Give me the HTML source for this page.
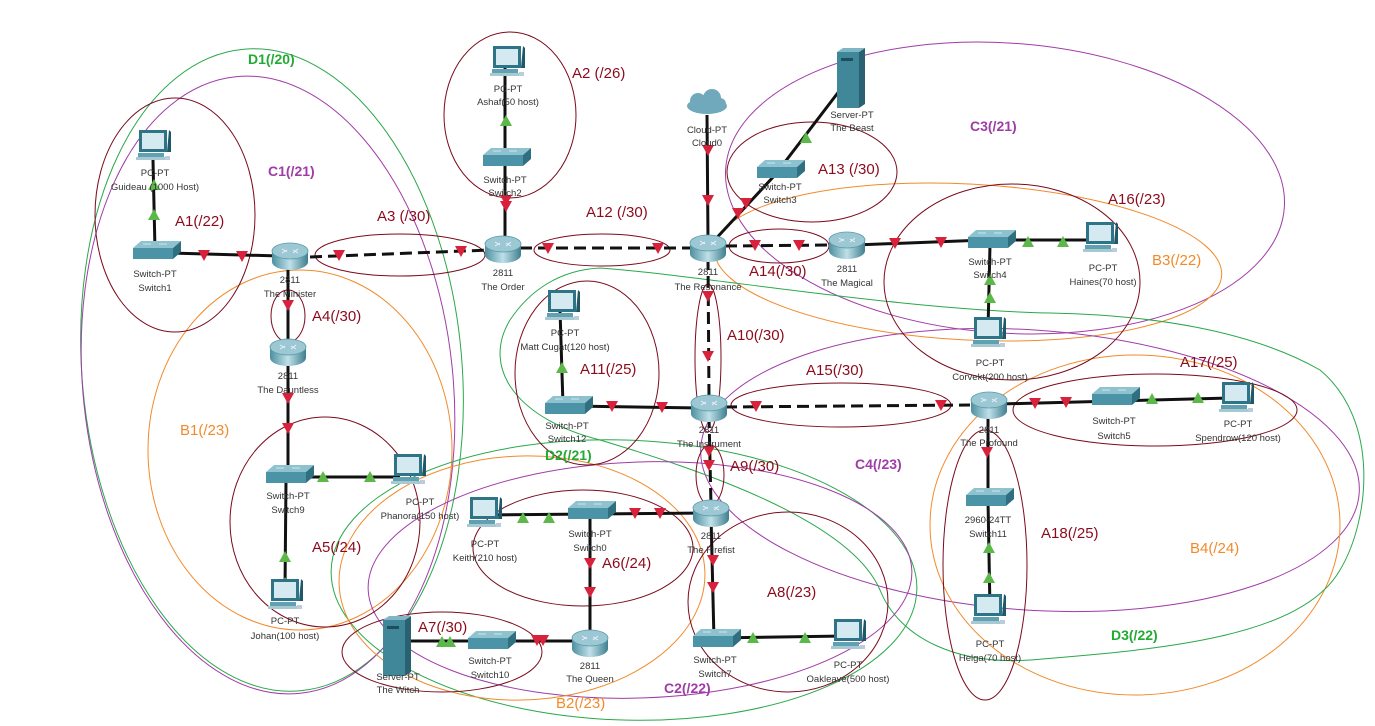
<!DOCTYPE html>
<html><head><meta charset="utf-8"><style>
html,body{margin:0;padding:0;background:#fff;}
svg{display:block;}
text{font-family:"Liberation Sans",Arial,sans-serif;}
.l{font-size:9.5px;fill:#333;text-anchor:middle;}
.a{font-size:15px;fill:#8b0b1c;}
.p{font-size:14px;fill:#a03ca8;font-weight:bold;}
.o{font-size:15px;fill:#f28a2a;}
.g{font-size:14px;fill:#22aa33;font-weight:bold;}
</style></head><body>
<svg width="1375" height="726" viewBox="0 0 1375 726" xmlns="http://www.w3.org/2000/svg">
<defs>
<linearGradient id="rg" x1="0" y1="0" x2="1" y2="0"><stop offset="0" stop-color="#4d8f9f"/><stop offset="0.5" stop-color="#bfe0e8"/><stop offset="1" stop-color="#3f7f8f"/></linearGradient>
<g id="rt"><path d="M-18,-5 L-18,6 A18,8 0 0 0 18,6 L18,-5 Z" fill="url(#rg)"/><ellipse cx="0" cy="-5" rx="18" ry="8" fill="#9cc8d4" stroke="#5a9aa9" stroke-width="0.8"/><path d="M-8,-7 L-3,-4 M3,-6 L8,-3 M-8,-3 L-3,-6 M3,-3 L8,-7" stroke="#eef" stroke-width="1"/></g>
<g id="sw"><polygon points="-22,-5 -14,-12 26,-12 18,-5" fill="#8fc2cf"/><rect x="-22" y="-5" width="40" height="11" fill="#4b93a6"/><polygon points="18,-5 26,-12 26,-1 18,6" fill="#2f6f80"/><path d="M-12,-9 L-4,-9 M4,-9 L12,-9" stroke="#e8f4f8" stroke-width="0.8"/></g>
<g id="pc"><rect x="-14" y="-18" width="28" height="22" fill="#2f7486"/><rect x="-11" y="-15" width="22" height="16" fill="#d5e9f0"/><polygon points="16,-18 18,-16 18,4 14,4" fill="#1f5868"/><rect x="-15" y="5" width="26" height="5" fill="#5fa0b2"/><rect x="-17" y="9" width="30" height="3" fill="#a8c8d2"/><rect x="12" y="8" width="5" height="4" fill="#bcd"/></g>
<g id="sv"><rect x="-13" y="-28" width="22" height="56" fill="#3f8799"/><polygon points="9,-28 15,-32 15,24 9,28" fill="#2a6172"/><polygon points="-13,-28 -7,-32 15,-32 9,-28" fill="#7fb5c4"/><rect x="-9" y="-22" width="12" height="3" fill="#1d4e5c"/></g>
<path id="rd" d="M-6,-5 L6,-5 L0,6 Z" fill="#d8213a"/>
<path id="gu" d="M-6,5 L6,5 L0,-6 Z" fill="#5cb848"/>
</defs>

<!-- big ellipses -->
<g fill="none" stroke-width="1">
<ellipse cx="272" cy="370" rx="190" ry="322" transform="rotate(-5 272 370)" stroke="#2aa84a"/>
<ellipse cx="268" cy="385" rx="185" ry="310" transform="rotate(-6 268 385)" stroke="#a03ca8"/>
<ellipse cx="300" cy="450" rx="152" ry="180" stroke="#f28a2a"/>
<ellipse cx="1005" cy="188" rx="280" ry="145" transform="rotate(4 1005 188)" stroke="#a03ca8"/>
<ellipse cx="968" cy="262" rx="254" ry="78" transform="rotate(3 968 262)" stroke="#f28a2a"/>
<ellipse cx="1030" cy="470" rx="330" ry="140" transform="rotate(4 1030 470)" stroke="#a03ca8"/>
<ellipse cx="1135" cy="525" rx="205" ry="170" stroke="#f28a2a"/>
<path d="M600,268 C700,275 900,310 1050,313 C1150,315 1250,330 1320,370 C1380,420 1370,520 1340,570 C1300,640 1150,650 1030,660 C960,665 900,640 880,590 C850,520 700,470 600,440 C520,420 480,370 510,320 C530,290 560,270 600,268 Z" stroke="#2aa84a"/>
<ellipse cx="624" cy="580" rx="293" ry="140" transform="rotate(2 624 580)" stroke="#2aa84a"/>
<ellipse cx="640" cy="580" rx="272" ry="118" transform="rotate(-2 640 580)" stroke="#a03ca8"/>
<ellipse cx="522" cy="578" rx="183" ry="122" transform="rotate(-2 522 578)" stroke="#f28a2a"/>
</g>
<g fill="none" stroke="#7a0a1c" stroke-width="1">
<ellipse cx="175" cy="215" rx="80" ry="117"/>
<ellipse cx="510" cy="115" rx="66" ry="83"/>
<ellipse cx="400" cy="255" rx="85" ry="21"/>
<ellipse cx="288" cy="316" rx="17" ry="26"/>
<ellipse cx="325" cy="522" rx="95" ry="105"/>
<ellipse cx="602" cy="250" rx="68" ry="16"/>
<ellipse cx="812" cy="172" rx="85" ry="50"/>
<ellipse cx="779" cy="246" rx="50" ry="17"/>
<ellipse cx="1012" cy="282" rx="128" ry="98"/>
<ellipse cx="708" cy="358" rx="13" ry="74"/>
<ellipse cx="587" cy="373" rx="72" ry="92"/>
<ellipse cx="841" cy="405" rx="110" ry="22"/>
<ellipse cx="1155" cy="410" rx="142" ry="36"/>
<ellipse cx="985" cy="565" rx="42" ry="135"/>
<ellipse cx="710" cy="475" rx="14" ry="30"/>
<ellipse cx="583" cy="548" rx="110" ry="58"/>
<ellipse cx="442" cy="652" rx="100" ry="40"/>
<ellipse cx="788" cy="602" rx="100" ry="90"/>
</g>

<!-- links -->
<g stroke="#111" stroke-width="3" fill="none">
<line x1="153" y1="160" x2="155" y2="250"/>
<line x1="170" y1="253" x2="280" y2="256"/>
<line x1="288" y1="262" x2="288" y2="350"/>
<line x1="288" y1="355" x2="288" y2="475"/>
<line x1="300" y1="477" x2="400" y2="477"/>
<line x1="286" y1="480" x2="285" y2="590"/>
<line x1="505" y1="68" x2="505" y2="245"/>
<line x1="707" y1="115" x2="708" y2="240"/>
<line x1="710" y1="245" x2="775" y2="175"/>
<line x1="775" y1="175" x2="840" y2="90"/>
<line x1="855" y1="245" x2="985" y2="240"/>
<line x1="995" y1="240" x2="1100" y2="240"/>
<line x1="990" y1="245" x2="988" y2="330"/>
<line x1="560" y1="310" x2="563" y2="405"/>
<line x1="570" y1="406" x2="700" y2="408"/>
<line x1="1000" y1="404" x2="1230" y2="398"/>
<line x1="988" y1="410" x2="988" y2="500"/>
<line x1="988" y1="500" x2="990" y2="610"/>
<line x1="484" y1="515" x2="710" y2="513"/>
<line x1="590" y1="515" x2="590" y2="640"/>
<line x1="711" y1="515" x2="714" y2="640"/>
<line x1="715" y1="638" x2="845" y2="636"/>
<line x1="396" y1="641" x2="590" y2="641"/>
</g>
<g stroke="#111" stroke-width="3" fill="none" stroke-dasharray="12,6">
<line x1="310" y1="257" x2="490" y2="250"/>
<line x1="520" y1="248" x2="692" y2="248"/>
<line x1="725" y1="246" x2="830" y2="245"/>
<line x1="708" y1="258" x2="709" y2="398"/>
<line x1="725" y1="407" x2="970" y2="405"/>
<line x1="709" y1="416" x2="711" y2="505"/>
</g>

<!-- triangles -->
<g>
<use href="#gu" x="154" y="215"/><use href="#gu" x="154" y="185"/>
<use href="#rd" x="204" y="255"/><use href="#rd" x="242" y="256"/>
<use href="#rd" x="339" y="255"/><use href="#rd" x="461" y="251"/>
<use href="#rd" x="288" y="305"/>
<use href="#rd" x="288" y="398"/><use href="#rd" x="288" y="428"/>
<use href="#gu" x="323" y="477"/><use href="#gu" x="370" y="477"/>
<use href="#gu" x="285" y="557"/><use href="#gu" x="285" y="583"/>
<use href="#gu" x="506" y="121"/>
<use href="#rd" x="506" y="200"/><use href="#rd" x="506" y="206"/>
<use href="#rd" x="548" y="248"/><use href="#rd" x="658" y="248"/>
<use href="#rd" x="708" y="150"/><use href="#rd" x="708" y="200"/>
<use href="#gu" x="806" y="138"/><use href="#rd" x="746" y="203"/><use href="#rd" x="738" y="213"/>
<use href="#rd" x="755" y="245"/><use href="#rd" x="799" y="245"/>
<use href="#rd" x="895" y="243"/><use href="#rd" x="941" y="242"/>
<use href="#gu" x="1028" y="242"/><use href="#gu" x="1063" y="242"/>
<use href="#gu" x="990" y="280"/><use href="#gu" x="990" y="298"/>
<use href="#rd" x="708" y="296"/><use href="#rd" x="708" y="356"/>
<use href="#gu" x="562" y="368"/>
<use href="#rd" x="612" y="406"/><use href="#rd" x="662" y="407"/>
<use href="#rd" x="756" y="406"/><use href="#rd" x="941" y="405"/>
<use href="#rd" x="1035" y="403"/><use href="#rd" x="1066" y="402"/>
<use href="#gu" x="1152" y="399"/><use href="#gu" x="1198" y="398"/>
<use href="#rd" x="987" y="452"/>
<use href="#gu" x="989" y="578"/><use href="#gu" x="989" y="548"/>
<use href="#rd" x="709" y="451"/><use href="#rd" x="709" y="465"/>
<use href="#gu" x="523" y="518"/><use href="#gu" x="549" y="518"/>
<use href="#rd" x="635" y="513"/><use href="#rd" x="660" y="513"/>
<use href="#rd" x="590" y="563"/><use href="#rd" x="590" y="592"/>
<use href="#rd" x="713" y="560"/><use href="#rd" x="713" y="587"/>
<use href="#gu" x="753" y="638"/><use href="#gu" x="805" y="638"/>
<use href="#gu" x="442" y="642"/><use href="#gu" x="450" y="642"/>
<use href="#rd" x="537" y="640"/><use href="#rd" x="543" y="640"/>
</g>

<!-- devices -->
<use href="#pc" x="153" y="148"/>
<use href="#sw" x="155" y="253"/>
<use href="#rt" x="290" y="256"/>
<use href="#rt" x="288" y="352"/>
<use href="#sw" x="288" y="477"/>
<use href="#pc" x="408" y="472"/>
<use href="#pc" x="285" y="597"/>
<use href="#pc" x="507" y="64"/>
<use href="#sw" x="505" y="160"/>
<use href="#rt" x="503" y="249"/>
<g fill="#6fa9bb"><ellipse cx="707" cy="106" rx="20" ry="8"/><circle cx="698" cy="101" r="8"/><circle cx="712" cy="98" r="9"/><circle cx="720" cy="104" r="6"/></g>
<use href="#sv" x="850" y="80"/>
<use href="#sw" x="779" y="172"/>
<use href="#rt" x="708" y="248"/>
<use href="#rt" x="847" y="245"/>
<use href="#sw" x="990" y="242"/>
<use href="#pc" x="1100" y="240"/>
<use href="#pc" x="988" y="335"/>
<use href="#pc" x="562" y="308"/>
<use href="#sw" x="567" y="408"/>
<use href="#rt" x="709" y="408"/>
<use href="#rt" x="989" y="405"/>
<use href="#sw" x="1114" y="399"/>
<use href="#pc" x="1236" y="400"/>
<use href="#rt" x="711" y="513"/>
<use href="#sw" x="590" y="513"/>
<use href="#pc" x="484" y="515"/>
<use href="#sw" x="988" y="500"/>
<use href="#pc" x="988" y="612"/>
<use href="#rt" x="590" y="643"/>
<use href="#sv" x="396" y="648"/>
<use href="#sw" x="490" y="643"/>
<use href="#sw" x="715" y="641"/>
<use href="#pc" x="848" y="637"/>

<!-- device labels -->
<g class="l">
<text x="155" y="176">PC-PT</text><text x="155" y="190">Guideau (1000 Host)</text>
<text x="155" y="277">Switch-PT</text><text x="155" y="291">Switch1</text>
<text x="290" y="283">2811</text><text x="290" y="297">The Minister</text>
<text x="288" y="379">2811</text><text x="288" y="393">The Dauntless</text>
<text x="288" y="499">Switch-PT</text><text x="288" y="513">Switch9</text>
<text x="420" y="505">PC-PT</text><text x="420" y="519">Phanora(150 host)</text>
<text x="285" y="624">PC-PT</text><text x="285" y="639">Johan(100 host)</text>
<text x="508" y="92">PC-PT</text><text x="508" y="105">Ashaf(50 host)</text>
<text x="505" y="183">Switch-PT</text><text x="505" y="196">Switch2</text>
<text x="503" y="276">2811</text><text x="503" y="290">The Order</text>
<text x="707" y="133">Cloud-PT</text><text x="707" y="146">Cloud0</text>
<text x="852" y="118">Server-PT</text><text x="852" y="131">The Beast</text>
<text x="780" y="190">Switch-PT</text><text x="780" y="203">Switch3</text>
<text x="708" y="275">2811</text><text x="708" y="290">The Resonance</text>
<text x="847" y="272">2811</text><text x="847" y="286">The Magical</text>
<text x="990" y="265">Switch-PT</text><text x="990" y="278">Switch4</text>
<text x="1103" y="271">PC-PT</text><text x="1103" y="285">Haines(70 host)</text>
<text x="990" y="366">PC-PT</text><text x="990" y="380">Corvekt(200 host)</text>
<text x="565" y="336">PC-PT</text><text x="565" y="350">Matt Cugat(120 host)</text>
<text x="567" y="429">Switch-PT</text><text x="567" y="442">Switch12</text>
<text x="709" y="433">2811</text><text x="709" y="447">The Instrument</text>
<text x="989" y="433">2811</text><text x="989" y="446">The Profound</text>
<text x="1114" y="424">Switch-PT</text><text x="1114" y="439">Switch5</text>
<text x="1238" y="427">PC-PT</text><text x="1238" y="441">Spendrow(120 host)</text>
<text x="711" y="539">2811</text><text x="711" y="553">The Firefist</text>
<text x="590" y="537">Switch-PT</text><text x="590" y="551">Switch0</text>
<text x="485" y="547">PC-PT</text><text x="485" y="561">Keith(210 host)</text>
<text x="988" y="523">2960-24TT</text><text x="988" y="537">Switch11</text>
<text x="990" y="647">PC-PT</text><text x="990" y="661">Helga(70 host)</text>
<text x="590" y="669">2811</text><text x="590" y="682">The Queen</text>
<text x="398" y="680">Server-PT</text><text x="398" y="693">The Witch</text>
<text x="490" y="664">Switch-PT</text><text x="490" y="678">Switch10</text>
<text x="715" y="663">Switch-PT</text><text x="715" y="677">Switch7</text>
<text x="848" y="668">PC-PT</text><text x="848" y="682">Oakleave(500 host)</text>
</g>

<!-- region labels -->
<g class="a">
<text x="175" y="226">A1(/22)</text>
<text x="572" y="78">A2 (/26)</text>
<text x="377" y="221">A3 (/30)</text>
<text x="312" y="321">A4(/30)</text>
<text x="312" y="552">A5(/24)</text>
<text x="602" y="568">A6(/24)</text>
<text x="418" y="632">A7(/30)</text>
<text x="767" y="597">A8(/23)</text>
<text x="730" y="471">A9(/30)</text>
<text x="727" y="340">A10(/30)</text>
<text x="580" y="374">A11(/25)</text>
<text x="586" y="217">A12 (/30)</text>
<text x="818" y="174">A13 (/30)</text>
<text x="749" y="276">A14(/30)</text>
<text x="806" y="375">A15(/30)</text>
<text x="1108" y="204">A16(/23)</text>
<text x="1180" y="367">A17(/25)</text>
<text x="1041" y="538">A18(/25)</text>
</g>
<g class="p">
<text x="268" y="176">C1(/21)</text>
<text x="664" y="693">C2(/22)</text>
<text x="970" y="131">C3(/21)</text>
<text x="855" y="469">C4(/23)</text>
</g>
<g class="o">
<text x="180" y="435">B1(/23)</text>
<text x="556" y="708">B2(/23)</text>
<text x="1152" y="265">B3(/22)</text>
<text x="1190" y="553">B4(/24)</text>
</g>
<g class="g">
<text x="248" y="64">D1(/20)</text>
<text x="545" y="460">D2(/21)</text>
<text x="1111" y="640">D3(/22)</text>
</g>
</svg>
</body></html>
